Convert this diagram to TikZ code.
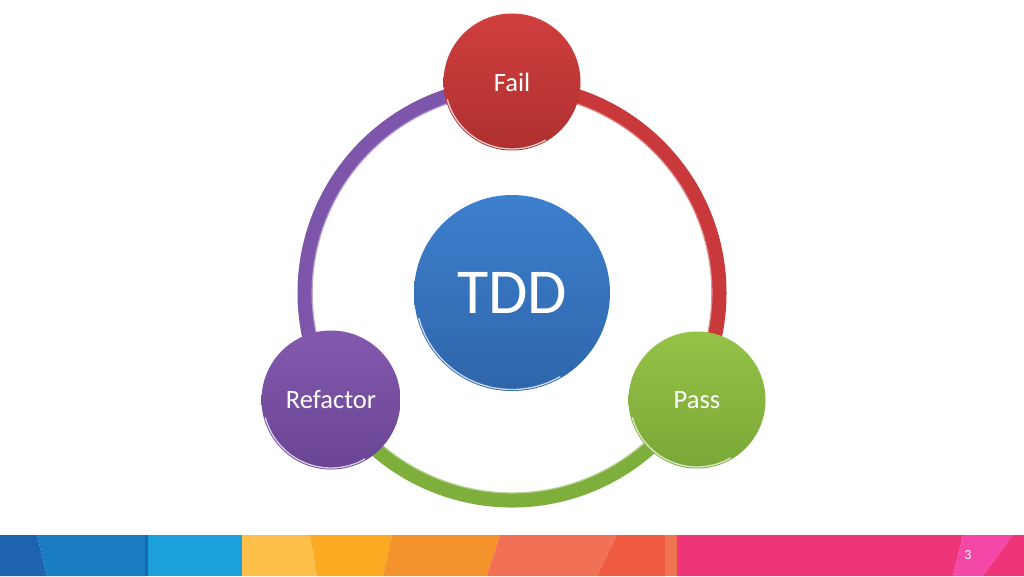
\documentclass[tikz,border=0pt]{standalone}
\usepackage{fontspec}
\setmainfont{Carlito}
\usetikzlibrary{calc}
\begin{document}
\begin{tikzpicture}[x=1pt,y=1pt,
  ringarc/.style={line width=15pt},
  glint/.style={line width=1.1pt, opacity=0.7},
  stage/.style={circle, inner sep=0pt, minimum size=137pt, shading=axis, text=white, font=\fontsize{26.5}{30}\selectfont},
  barseg/.style={draw=none}]
\definecolor{rpurple}{HTML}{7D56AC}
\definecolor{rred}{HTML}{C9383A}
\definecolor{rgreen}{HTML}{7EAE3B}
\definecolor{btop}{HTML}{3D80CE}
\definecolor{bbot}{HTML}{2F65AA}
\definecolor{ftop}{HTML}{D03F3E}
\definecolor{fbot}{HTML}{AE3030}
\definecolor{ptop}{HTML}{95C247}
\definecolor{pbot}{HTML}{7AA837}
\definecolor{rtop}{HTML}{8259AE}
\definecolor{rbot}{HTML}{6B4594}
\useasboundingbox (0,0) rectangle (1024,576);
\fill[white] (0,0) rectangle (1024,576);
% ring
\coordinate (c) at (512,283);
\coordinate (pF) at (512,490);
\coordinate (pR) at ($(c)+(210:207)$);
\draw[ringarc, rpurple] (pF) arc[start angle=90, end angle=210, radius=207pt];
\draw[ringarc, rred] (pF) arc[start angle=90, end angle=-30, radius=207pt];
\draw[ringarc, rgreen] (pR) arc[start angle=210, end angle=330, radius=207pt];
\draw[glint, rpurple!40!white] ($(c)+(90:200)$) arc[start angle=90, end angle=210, radius=200pt];
\draw[glint, rred!40!white] ($(c)+(90:200)$) arc[start angle=90, end angle=-30, radius=200pt];
\draw[glint, rgreen!40!white] ($(c)+(210:200)$) arc[start angle=210, end angle=330, radius=200pt];
% stages
\node[stage, minimum size=196pt, top color=btop, bottom color=bbot, font=\fontsize{64}{70}\selectfont] (tdd) at (512,283) {TDD};
\node[stage, top color=ftop, bottom color=fbot] (fail) at (512,494) {Fail};
\node[stage, top color=ptop, bottom color=pbot] (pass) at (697,176) {Pass};
\node[stage, minimum size=139pt, top color=rtop, bottom color=rbot] (refactor) at (331,176) {Refactor};
\foreach \n/\r in {tdd/96.5, fail/67, pass/67, refactor/68}{
  \draw[white, line width=1.3pt, opacity=0.75] ($(\n.center)+(195:\r)$) arc[start angle=195, end angle=300, radius=\r pt];
}
% bottom bar
\fill[barseg, fill={rgb,255:red,29;green,99;blue,174}] (0,0) -- (0,41) -- (37,41) -- (47,0) -- cycle;
\fill[barseg, fill={rgb,255:red,26;green,125;blue,194}] (47,0) -- (37,41) -- (145,41) -- (145,0) -- cycle;
\fill[barseg, fill={rgb,255:red,21;green,104;blue,176}] (145,0) rectangle (148,41);
\fill[barseg, fill={rgb,255:red,27;green,160;blue,220}] (148,0) rectangle (242,41);
\fill[barseg, fill={rgb,255:red,253;green,191;blue,74}] (242,0) -- (242,41) -- (310,41) -- (317,0) -- cycle;
\fill[barseg, fill={rgb,255:red,251;green,170;blue,34}] (317,0) -- (310,41) -- (392,41) -- (383,0) -- cycle;
\fill[barseg, fill={rgb,255:red,244;green,146;blue,44}] (383,0) -- (392,41) -- (500,41) -- (487,0) -- cycle;
\fill[barseg, fill={rgb,255:red,242;green,112;blue,85}] (487,0) -- (500,41) -- (617,41) -- (597,0) -- cycle;
\fill[barseg, fill={rgb,255:red,241;green,91;blue,66}] (597,0) -- (617,41) -- (665,41) -- (665,0) -- cycle;
\fill[barseg, fill={rgb,255:red,242;green,117;blue,82}] (665,0) rectangle (677,41);
\fill[barseg, fill={rgb,255:red,238;green,53;blue,119}] (677,0) -- (677,41) -- (963,41) -- (953,0) -- cycle;
\fill[barseg, fill={rgb,255:red,244;green,72;blue,168}] (953,0) -- (963,41) -- (1013,41) -- (983,0) -- cycle;
\fill[barseg, fill={rgb,255:red,238;green,53;blue,119}] (983,0) -- (1013,41) -- (1024,41) -- (1024,0) -- cycle;
\node[text=white, font=\fontsize{14}{16}\selectfont] (pagenum) at (968,21) {3};
\end{tikzpicture}
\end{document}
